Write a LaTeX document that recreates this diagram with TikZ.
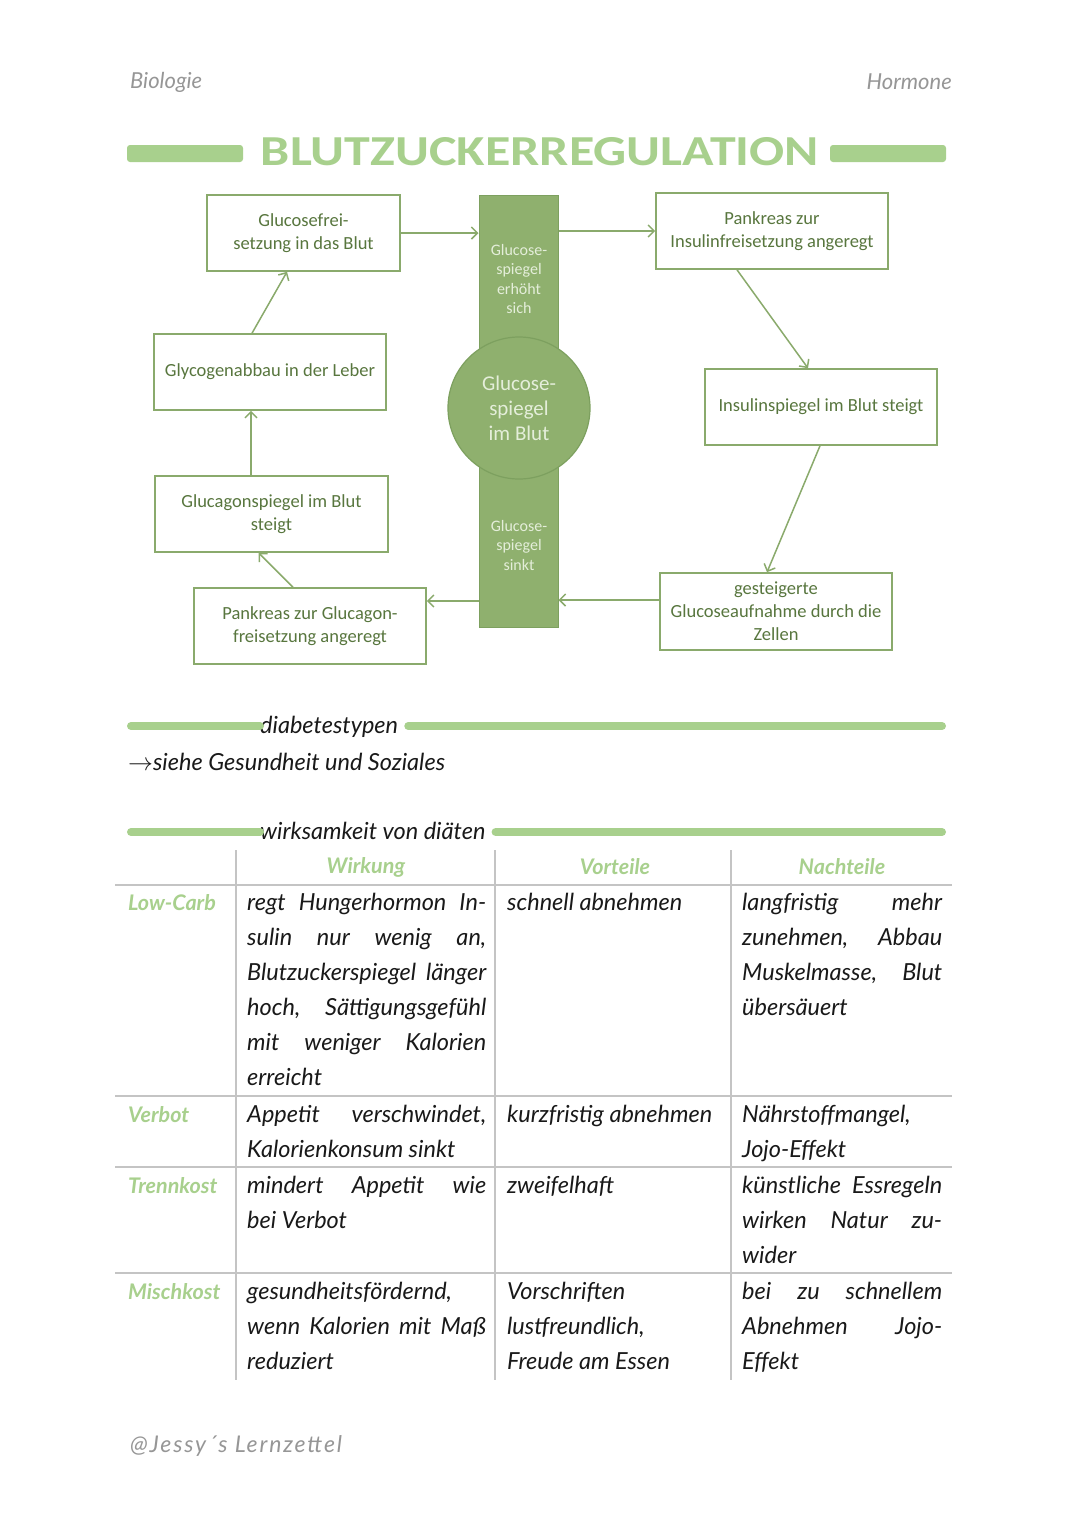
\documentclass[tikz,border=0pt]{standalone}
\usepackage{fontspec}
\usepackage{graphicx}
\setmainfont{Carlito}
\newfontfamily\handfont{Lato}
\usetikzlibrary{arrows.meta,calc}
\definecolor{lgreen}{RGB}{168,208,141}
\definecolor{dgreen}{RGB}{143,176,110}
\definecolor{dborder}{RGB}{125,160,95}
\definecolor{boxc}{RGB}{138,170,108}
\definecolor{boxtext}{RGB}{88,118,62}
\definecolor{bartext}{RGB}{228,238,218}
\definecolor{gridc}{RGB}{196,196,196}
\definecolor{ink}{RGB}{25,25,25}
\definecolor{headgray}{RGB}{150,150,150}
\newcounter{tn}
\newcommand\Jl[4]{\stepcounter{tn}\node[hw,anchor=base west] (t\arabic{tn}) at (#1,#2) {\makebox[#3pt][s]{#4}};}
\newcommand\Ll[3]{\stepcounter{tn}\node[hw,anchor=base west] (t\arabic{tn}) at (#1,#2) {#3};}
\begin{document}
\begin{tikzpicture}[x=1pt,y=-1pt,
  box/.style={draw=boxc, line width=1.6pt, text=boxtext, font=\fontsize{18.5}{23}\selectfont, align=center, inner sep=0pt, rectangle},
  arr/.style={draw=boxc, line width=1.5pt, -{Straight Barb[length=6pt,width=12pt,line width=1.5pt]}},
  hw/.style={font=\handfont\itshape\fontsize{23.5}{26}\selectfont, inner sep=0pt, text=ink},
  hwg/.style={font=\handfont\itshape\bfseries\fontsize{21.5}{24}\selectfont, inner sep=0pt, text=lgreen},
  secbar/.style={draw=lgreen, line width=8pt, line cap=round},
  grid/.style={draw=gridc, line width=1.5pt},
  bartxt/.style={text=bartext, font=\fontsize{16}{19.5}\selectfont, align=center, inner sep=0pt}
]
\useasboundingbox (0,0) rectangle (1080,1527);
\fill[white] (0,0) rectangle (1080,1527);

% header
\node[hw, text=headgray, font=\handfont\itshape\fontsize{22}{24}\selectfont, anchor=west] (hl) at (130,82) {Biologie};
\node[hw, text=headgray, font=\handfont\itshape\fontsize{22}{24}\selectfont, anchor=east] (hr) at (952,82) {Hormone};

% title
\node[fill=lgreen, rounded corners=3pt, minimum width=116pt, minimum height=17pt, inner sep=0pt] (tbl) at (185,153.5) {};
\node[fill=lgreen, rounded corners=3pt, minimum width=116pt, minimum height=17pt, inner sep=0pt] (tbr) at (888,153.5) {};
\node[text=lgreen, inner sep=0pt] (title) at (540,152) {\resizebox{558pt}{28pt}{\bfseries BLUTZUCKERREGULATION}};

% center bar + circle
\node[fill=dgreen, draw=dborder, line width=1pt, minimum width=79pt, minimum height=432pt, inner sep=0pt] (bar) at (518.5,411) {};
\node[bartxt] (bt) at (519,279) {Glucose-\\spiegel\\erhöht\\sich};
\node[bartxt] (bb) at (519,545) {Glucose-\\spiegel\\sinkt};
\node[circle, fill=dgreen, draw=dborder, line width=1.2pt, minimum size=142pt, inner sep=0pt, text=bartext, font=\fontsize{21}{25}\selectfont, align=center] (circ) at (519,408) {Glucose-\\spiegel\\im Blut};

% boxes
\node[box, minimum width=193pt, minimum height=76pt] (A) at (303.5,233) {Glucosefrei-\\setzung in das Blut};
\node[box, minimum width=232pt, minimum height=76pt] (B) at (270,372) {Glycogenabbau in der Leber};
\node[box, minimum width=233pt, minimum height=76pt] (C) at (271.5,514) {Glucagonspiegel im Blut\\steigt};
\node[box, minimum width=232pt, minimum height=76pt] (D) at (310,626) {Pankreas zur Glucagon-\\freisetzung angeregt};
\node[box, minimum width=232pt, minimum height=76pt] (E) at (772,231) {Pankreas zur\\Insulinfreisetzung angeregt};
\node[box, minimum width=232pt, minimum height=76pt] (F) at (821,407) {Insulinspiegel im Blut steigt};
\node[box, minimum width=232pt, minimum height=77pt] (G) at (776,611.5) {gesteigerte\\Glucoseaufnahme durch die\\Zellen};

% arrow end points
\coordinate (gw) at ($(G.west)+(0,-11.5)$);
\coordinate (de) at ($(D.east)+(0,-25)$);

% arrows
\draw[arr] (A.east) -- (A.east -| bar.west);
\draw[arr] (bar.east |- E.west) -- (E.west);
\draw[arr] ($(E.south)+(-35,0)$) -- ($(F.north)+(-13,0)$);
\draw[arr] ($(F.south)+(-1,0)$) -- ($(G.north)+(-9,0)$);
\draw[arr] (gw) -- (gw -| bar.east);
\draw[arr] (de -| bar.west) -- (de);
\draw[arr] ($(D.north)+(-17,0)$) -- ($(C.south)+(-13,0)$);
\draw[arr] ($(C.north)+(-20.5,0)$) -- ($(B.south)+(-19,0)$);
\draw[arr] ($(B.north)+(-18,0)$) -- ($(A.south)+(-16.5,0)$);

% section diabetestypen
\node[hw, anchor=base west] (s1) at (260,733) {diabetestypen};
\coordinate (s1l) at (131,726);
\coordinate (s1r) at (942,726);
\draw[secbar] (s1l) -- (s1l -| s1.west);
\draw[secbar] ([xshift=10pt]s1.east |- s1r) -- (s1r);
\node[hw, anchor=west] (s1t) at (128,762) {$\rightarrow$siehe Gesundheit und Soziales};

% section wirksamkeit
\node[hw, anchor=base west] (s2) at (260,839) {wirksamkeit von diäten};
\coordinate (s2l) at (131,832);
\coordinate (s2r) at (942,832);
\draw[secbar] (s2l) -- (s2l -| s2.west);
\draw[secbar] ([xshift=10pt]s2.east |- s2r) -- (s2r);

% table grid
\coordinate (g1t) at (236,850); \coordinate (g1b) at (236,1380);
\coordinate (g2t) at (495,850); \coordinate (g2b) at (495,1380);
\coordinate (g3t) at (731,850); \coordinate (g3b) at (731,1380);
\draw[grid] (g1t) -- (g1b);
\draw[grid] (g2t) -- (g2b);
\draw[grid] (g3t) -- (g3b);
\foreach \yy/\nm in {885/h1,1096/h2,1167/h3,1273/h4}{
  \coordinate (\nm l) at (115,\yy); \coordinate (\nm r) at (952,\yy);
  \draw[grid, line width=2pt] (\nm l) -- (\nm r);
}

% table header
\node[hwg] (hw1) at (366,867) {Wirkung};
\node[hwg] (hw2) at (615,867) {Vorteile};
\node[hwg] (hw3) at (842,867) {Nachteile};
\node[hwg, anchor=base west] (r1) at (128,910) {Low-Carb};
\node[hwg, anchor=base west] (r2) at (128,1122) {Verbot};
\node[hwg, anchor=base west] (r3) at (128,1193) {Trennkost};
\node[hwg, anchor=base west] (r4) at (128,1299) {Mischkost};

% row 1
\Jl{247}{910}{239}{regt Hungerhormon In-}
\Jl{247}{945}{239}{sulin nur wenig an,}
\Jl{247}{980}{239}{Blutzuckerspiegel länger}
\Jl{247}{1015}{239}{hoch, Sättigungsgefühl}
\Jl{247}{1050}{239}{mit weniger Kalorien}
\Ll{247}{1085}{erreicht}
\Ll{507}{910}{schnell abnehmen}
\Jl{742}{910}{200}{langfristig mehr}
\Jl{742}{945}{200}{zunehmen, Abbau}
\Jl{742}{980}{200}{Muskelmasse, Blut}
\Ll{742}{1015}{übersäuert}
% row 2
\Jl{247}{1122}{239}{Appetit verschwindet,}
\Ll{247}{1157}{Kalorienkonsum sinkt}
\Ll{507}{1122}{kurzfristig abnehmen}
\Ll{742}{1122}{Nährstoffmangel,}
\Ll{742}{1157}{Jojo-Effekt}
% row 3
\Jl{247}{1193}{239}{mindert Appetit wie}
\Ll{247}{1228}{bei Verbot}
\Ll{507}{1193}{zweifelhaft}
\Jl{742}{1193}{200}{künstliche Essregeln}
\Jl{742}{1228}{200}{wirken Natur zu-}
\Ll{742}{1263}{wider}
% row 4
\Ll{247}{1299}{gesundheitsfördernd,}
\Jl{247}{1334}{239}{wenn Kalorien mit Maß}
\Ll{247}{1369}{reduziert}
\Ll{507}{1299}{Vorschriften}
\Ll{507}{1334}{lustfreundlich,}
\Ll{507}{1369}{Freude am Essen}
\Jl{742}{1299}{200}{bei zu schnellem}
\Jl{742}{1334}{200}{Abnehmen Jojo-}
\Ll{742}{1369}{Effekt}

% footer
\node[hw, text=headgray, font=\handfont\itshape\fontsize{23}{24}\selectfont\addfontfeature{LetterSpace=8}, anchor=west] (foot) at (130,1446) {@Jessy´s Lernzettel};
\end{tikzpicture}
\end{document}
